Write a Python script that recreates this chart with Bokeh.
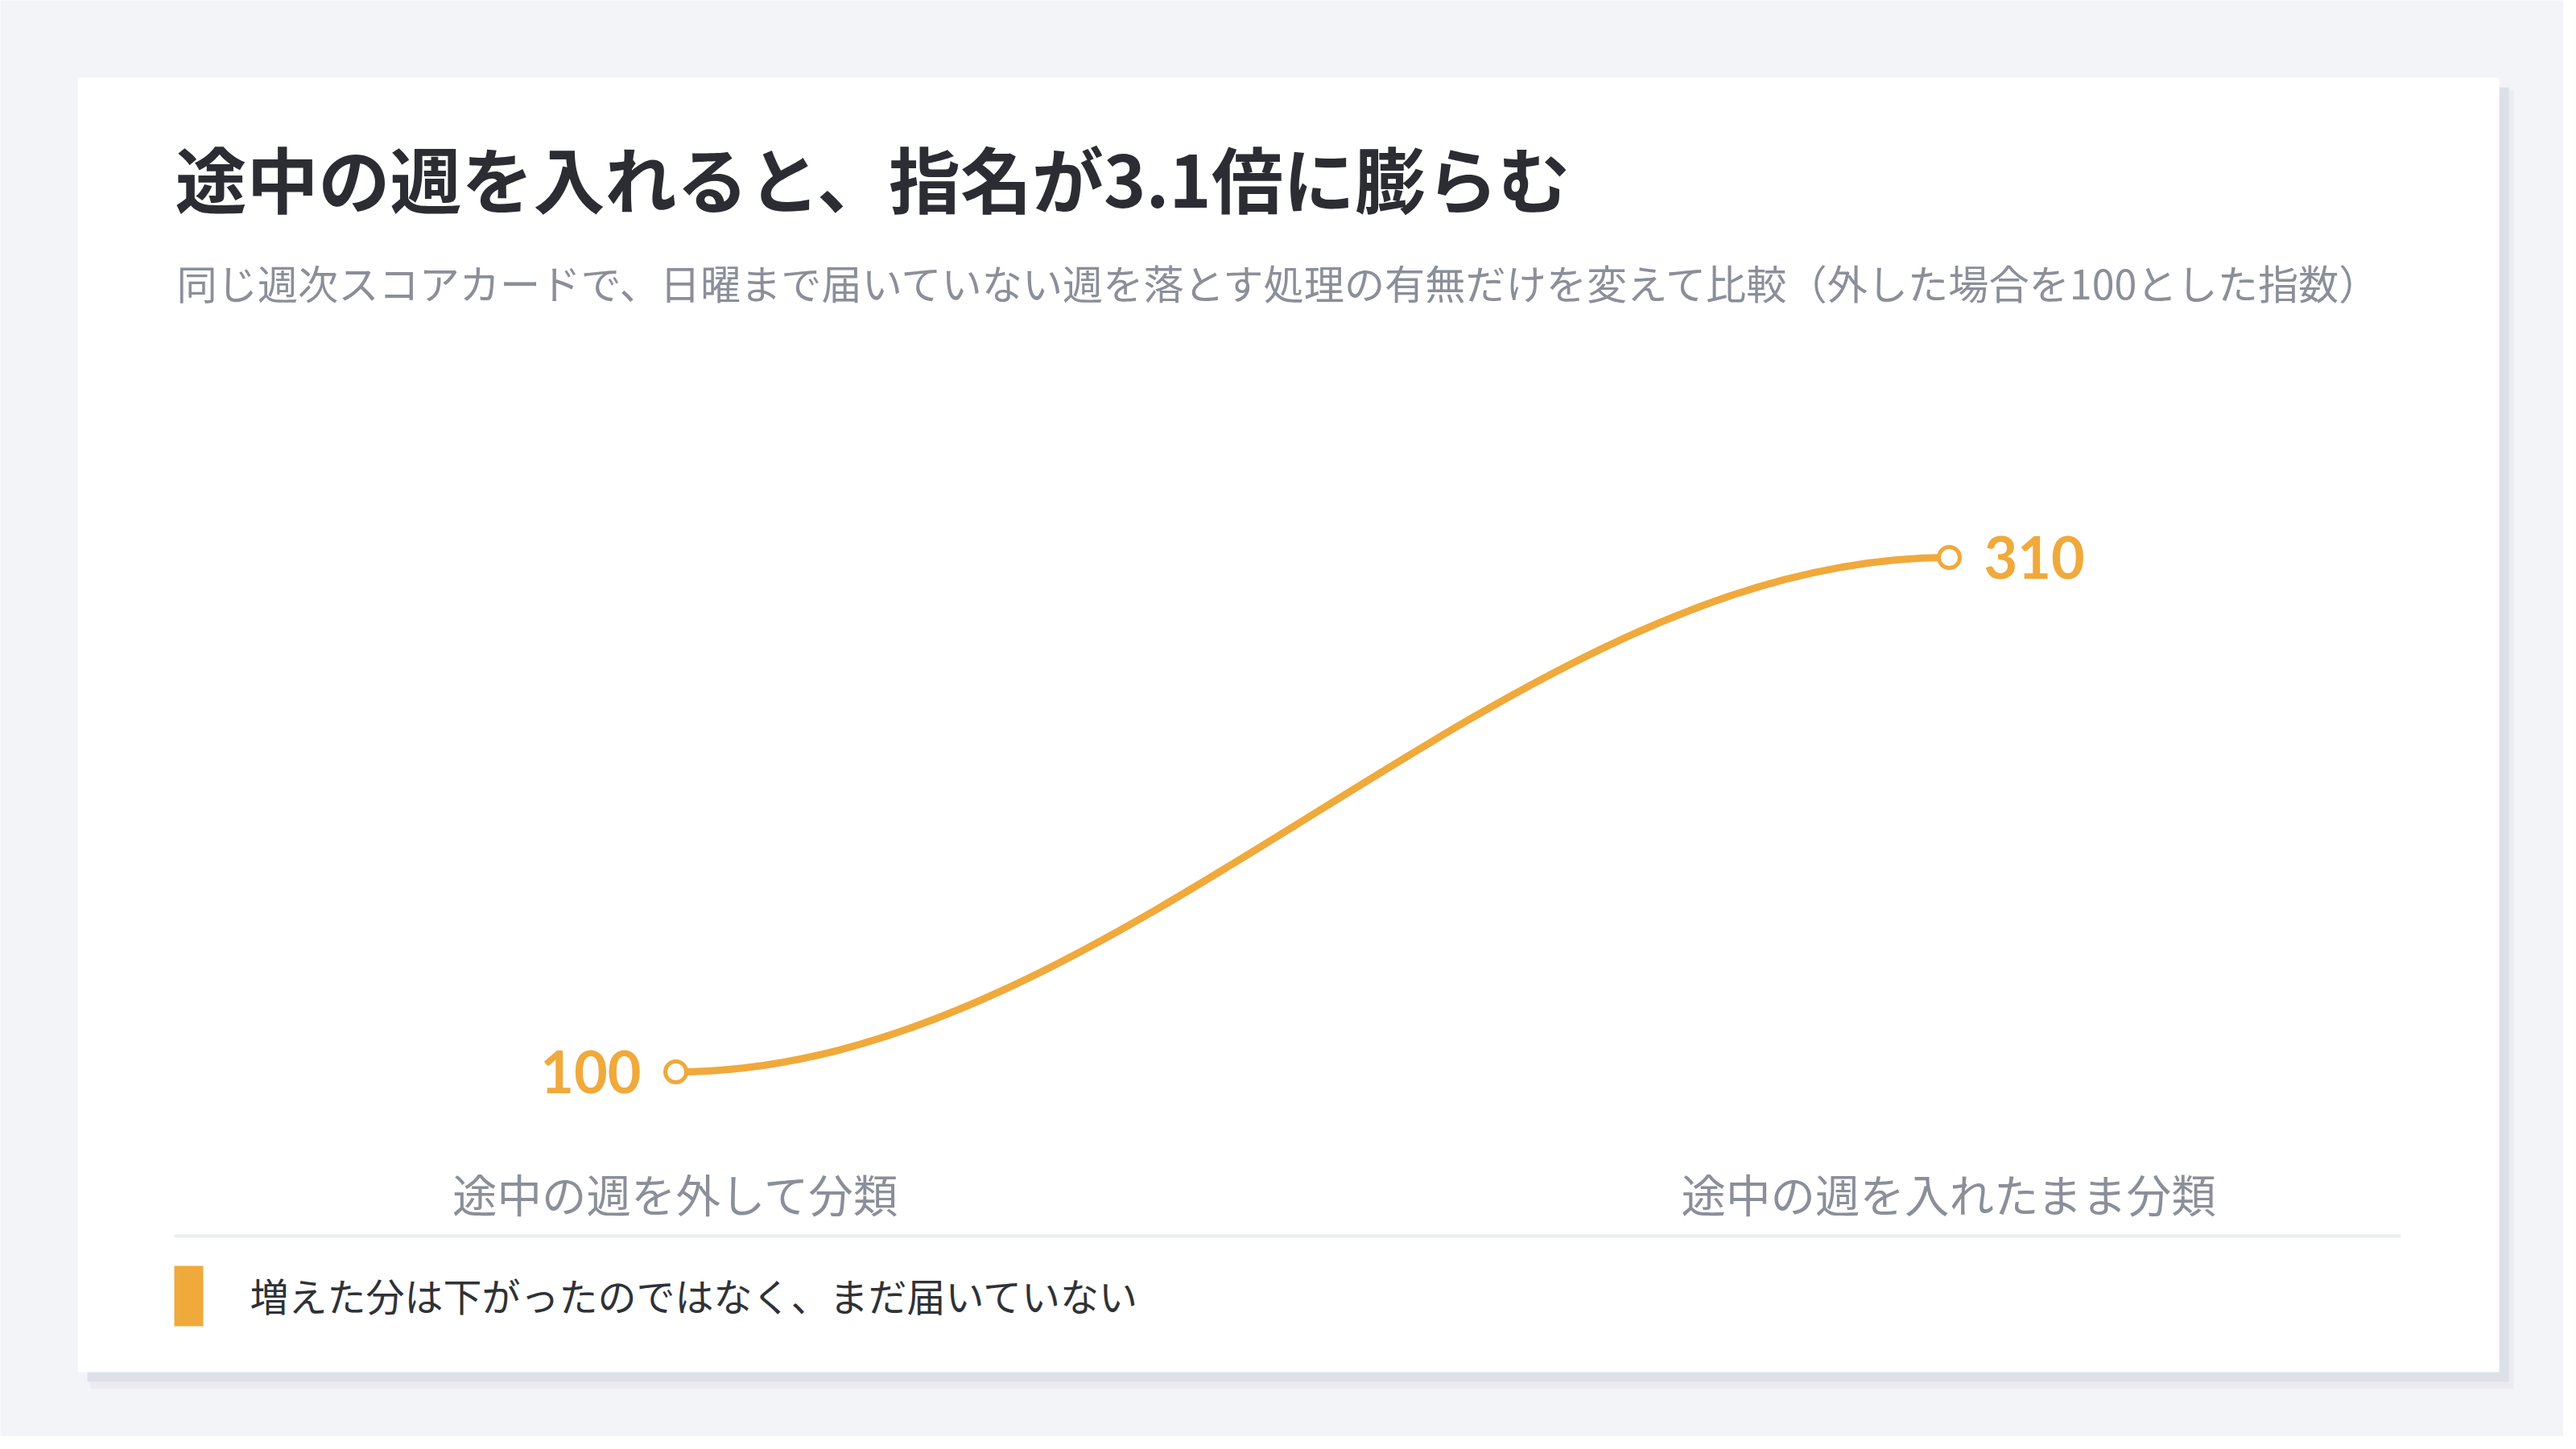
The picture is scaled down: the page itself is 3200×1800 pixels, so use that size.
from bokeh.plotting import figure
from bokeh.models import Range1d, Label, ColumnDataSource
from bokeh.core.properties import value
from bokeh.embed import file_html
from bokeh.resources import INLINE

# ---- data ----
categories = ["途中の週を外して分類", "途中の週を入れたまま分類"]
values = [100, 310]
value_labels = ["100", "310"]
title_text = "途中の週を入れると、指名が3.1倍に膨らむ"
subtitle_text = "同じ週次スコアカードで、日曜まで届いていない週を落とす処理の有無だけを変えて比較（外した場合を100とした指数）"
legend_text = "増えた分は下がったのではなく、まだ届いていない"

# ---- style ----
BG = "#f3f4f8"
CARD = "#ffffff"
ORANGE = "#f0a93b"
DARK = "#2b2d33"
GRAY = "#8a8f99"
JP = "Noto Sans CJK JP"

W, H = 3184, 1784
OFF = 0

# pixel layout of the plotting scale (picture coords)
X0_PX, X1_PX = 839.0, 2421.0     # category 0 / 1
Y100_PX, Y310_PX = 1331.0, 692.0  # value 100 / 310
ppx = (X1_PX - X0_PX)
x_start = -(X0_PX - OFF) / ppx
x_end = x_start + W / ppx
ppy = (Y100_PX - Y310_PX) / 210.0
y_start = 100 - (H - (Y100_PX - OFF)) / ppy
y_end = y_start + H / ppy


def X(px):
    return x_start + (px - OFF) / ppx


def Y(py):
    return y_start + (H - (py - OFF)) / ppy


p = figure(width=W, height=H, x_range=Range1d(x_start, x_end), y_range=Range1d(y_start, y_end),
           output_backend="svg", toolbar_location=None, min_border=0,
           x_axis_location=None, y_axis_location=None)
p.grid.visible = False
p.outline_line_color = None
p.background_fill_color = BG
p.border_fill_color = BG

# card shadow + card
p.quad(left=[X(112)], right=[X(3122)], top=[Y(112)], bottom=[Y(1725)], fill_color="#eaecf1", line_color=None)
p.quad(left=[X(108)], right=[X(3116)], top=[Y(108)], bottom=[Y(1716)], fill_color="#dde0e7", line_color=None)
p.quad(left=[X(96)], right=[X(3104)], top=[Y(96)], bottom=[Y(1704)], fill_color=CARD, line_color=None)

# titles
p.add_layout(Label(x=X(217), y=Y(219), text=title_text, text_font=JP, text_font_style="bold",
                   text_font_size="89px", text_color=DARK, text_baseline="middle", text_align="left"))
p.add_layout(Label(x=X(219), y=Y(349), text=subtitle_text, text_font=JP,
                   text_font_size="50.2px", text_color=GRAY, text_baseline="middle", text_align="left"))

# separator line
p.segment(x0=[X(216)], x1=[X(2982)], y0=[Y(1535)], y1=[Y(1535)], line_color="#e9edf2", line_width=4)

# legend
p.quad(left=[X(216)], right=[X(252)], top=[Y(1572)], bottom=[Y(1647)], fill_color=ORANGE, line_color=None)
p.add_layout(Label(x=X(310), y=Y(1607), text=legend_text, text_font=JP,
                   text_font_size="48px", text_color="#2f3237", text_baseline="middle", text_align="left"))

# data: smooth curve between the two points (horizontal tangents)
idx = list(range(len(categories)))
span = idx[1] - idx[0]
p.bezier(x0=[idx[0]], y0=[values[0]], x1=[idx[1]], y1=[values[1]],
         cx0=[idx[0] + 0.35 * span], cy0=[values[0]], cx1=[idx[1] - 0.35 * span], cy1=[values[1]],
         line_color=ORANGE, line_width=9, line_cap="round")
p.scatter(x=idx, y=values, size=26, marker="circle", fill_color="white", line_color=ORANGE, line_width=5)

src = ColumnDataSource(dict(x=idx, y=values, lab=value_labels,
                            align=["right", "left"], xo=[-43, 43]))
p.text(x="x", y="y", text="lab", source=src, text_align="align", x_offset="xo",
       text_baseline="middle", text_font=value("Lato"), text_font_style="bold",
       text_font_size=value("72px"), text_color=ORANGE)

# category labels
p.text(x=idx, y=[Y(1481)] * len(idx), text=categories, text_align="center", text_baseline="middle",
       text_font=value(JP), text_font_size=value("55.5px"), text_color=GRAY)

open("out.html", "w").write(file_html(p, INLINE))
